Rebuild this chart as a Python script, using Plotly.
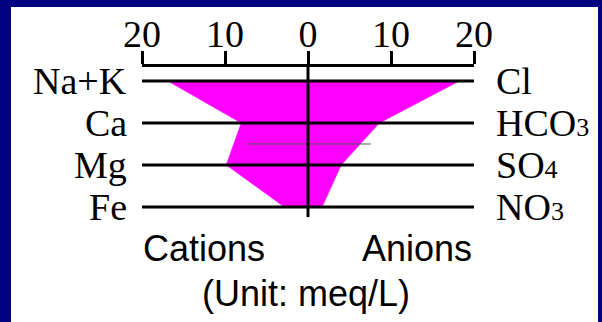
import plotly.graph_objects as go

# Stiff diagram, values in meq/L
cations = ["Na+K", "Ca", "Mg", "Fe"]
anions = ["Cl", "HCO<span style='font-size:26px'>3</span>",
          "SO<span style='font-size:26px'>4</span>",
          "NO<span style='font-size:26px'>3</span>"]
cation_vals = [16.9, 8.05, 9.85, 2.85]
anion_vals = [18.25, 8.6, 4.0, 1.7]
rows = [0, 1, 2, 3]

tick_vals = [-20, -10, 0, 10, 20]
tick_text = ["20", "10", "0", "10", "20"]

serif = "Liberation Serif"
sans = "Liberation Sans"

fig = go.Figure()

# polygon: cations on the left (negative), anions on the right
poly_x = [-v for v in cation_vals] + anion_vals[::-1]
poly_y = rows + rows[::-1]
fig.add_trace(go.Scatter(
    x=poly_x, y=poly_y, fill="toself", fillcolor="#ff00ff",
    mode="lines", line=dict(color="#ff00ff", width=0.5),
    hoverinfo="skip", showlegend=False
))

# horizontal line for each ion row
for r in rows:
    fig.add_trace(go.Scatter(
        x=[-20, 20.3], y=[r, r], mode="lines",
        line=dict(color="black", width=3), cliponaxis=False,
        hoverinfo="skip", showlegend=False
    ))

# thin stray line between Ca and Mg
fig.add_trace(go.Scatter(
    x=[-7.4, 7.6], y=[1.5, 1.5], mode="lines",
    line=dict(color="#555555", width=1),
    hoverinfo="skip", showlegend=False
))

# vertical zero line
fig.add_trace(go.Scatter(
    x=[0, 0], y=[-0.333, 3.24], mode="lines",
    line=dict(color="black", width=3), cliponaxis=False,
    hoverinfo="skip", showlegend=False
))

annotations = []
for r, name in zip(rows, cations):
    annotations.append(dict(x=-20, y=r, text=name, xanchor="right", xshift=-13,
                            showarrow=False, font=dict(family=serif, size=38, color="black")))
for r, name in zip(rows, anions):
    annotations.append(dict(x=20, y=r, text=name, xanchor="left", xshift=20,
                            showarrow=False, font=dict(family=serif, size=38, color="black")))

annotations += [
    dict(x=-12.5, y=3.98, text="Cations", showarrow=False,
         font=dict(family=sans, size=36, color="black")),
    dict(x=13.1, y=3.98, text="Anions", showarrow=False,
         font=dict(family=sans, size=36, color="black")),
    dict(x=-0.3, y=5.07, text="(Unit: meq/L)", showarrow=False,
         font=dict(family=sans, size=36, color="black")),
]

fig.update_layout(
    width=602, height=322,
    margin=dict(l=142, r=128, t=67, b=0),
    paper_bgcolor="#000080",
    plot_bgcolor="white",
    showlegend=False,
    annotations=annotations,
    shapes=[dict(type="rect", xref="paper", yref="paper",
                 x0=-0.3946, x1=1.3735, y0=-0.1, y1=1.235,
                 fillcolor="white", line=dict(width=0), layer="below")],
    xaxis=dict(
        range=[-20, 20], side="top", tickvals=tick_vals, ticktext=tick_text,
        ticks="outside", ticklen=13, tickwidth=3, tickcolor="black",
        ticklabelstandoff=-11,
        showline=True, linewidth=3, linecolor="black",
        showgrid=False, zeroline=False,
        tickfont=dict(family=serif, size=38, color="black"),
    ),
    yaxis=dict(
        range=[5.738, -0.333], visible=False, showgrid=False, zeroline=False,
    ),
)

# drop the browser's default body margin so the figure fills the window
fig.write_html("out.html", config={"displayModeBar": False},
               post_script="document.body.style.margin='0';")
